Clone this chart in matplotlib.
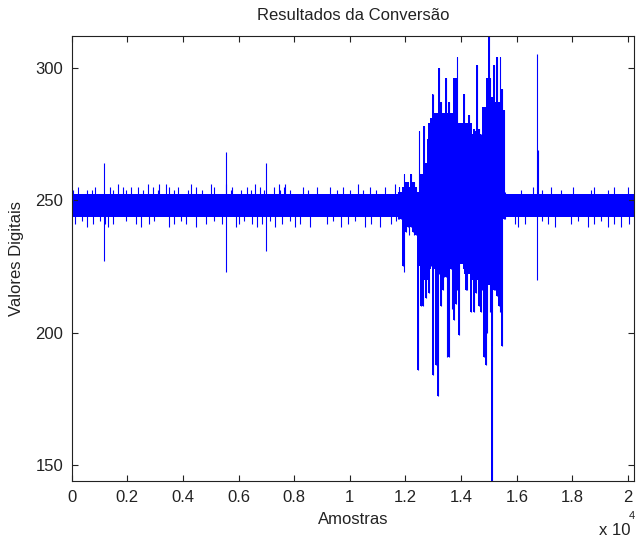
import numpy as np
import matplotlib
matplotlib.use('Agg')
import matplotlib.pyplot as plt

plt.rcParams['font.family'] = ['Liberation Sans', 'DejaVu Sans']

# -------------------------------------------------------------
# dados (amostras x valor digital)
# -------------------------------------------------------------

# faixa de ruido de fundo (sinal em repouso)
band_x = [1, 20215]
band_lo = [243.5, 243.5]
band_hi = [252.5, 252.5]

# picos pequenos para cima na parte calma
up_x = [57, 236, 536, 714, 832, 1153, 1368, 1487, 1666, 1845, 1964, 2142, 2380,
        2559, 2738, 2916, 3095, 3155, 3392, 3511, 3690, 3809, 4166, 4285, 4464,
        4702, 5000, 5119, 5535, 5557, 5714, 5773, 6071, 6309, 6428, 6607, 6785,
        6903, 7000, 7260, 7439, 7499, 7617, 7678, 7856, 8331, 8510, 8806, 9285,
        9520, 9760, 9999, 10295, 10474, 10713, 10949, 11249, 11606,
        16152, 16591, 16734, 16760, 16891, 17248, 17605, 18020, 18676, 18794,
        19270, 19509, 19984]
up_y = [254, 255, 254, 254, 255, 264, 255, 254, 256, 255, 254, 255, 255,
        254, 256, 255, 254, 256, 256, 255, 254, 255, 254, 256, 255,
        254, 256, 255, 256, 268, 254, 255, 254, 255, 254, 256, 255,
        254, 264, 255, 256, 254, 255, 256, 254, 255, 254, 255, 255,
        254, 255, 254, 256, 254, 255, 254, 255, 256,
        254, 255, 305, 269, 254, 255, 254, 255, 254, 255,
        254, 255, 255]

# picos pequenos para baixo na parte calma
down_x = [118, 357, 536, 771, 1011, 1153, 1189, 1307, 1486, 1964, 2321, 2500,
          2796, 2975, 3510, 3689, 3928, 4107, 4464, 4821, 5117, 5414, 5557,
          5892, 6010, 6189, 6485, 6664, 6843, 7000, 7142, 7321, 7556, 7856,
          8035, 8213, 8570, 9163, 9403, 9699, 9938, 10177, 10534, 10770, 11070,
          11484, 11663,
          15938, 16055, 16295, 16734, 16891, 17127, 17367, 17962, 18198, 18555,
          18794, 19034, 19270, 19509, 19748, 20045]
down_y = [241, 242, 240, 241, 242, 227, 241, 240, 241, 242, 241, 240,
          241, 242, 240, 241, 242, 241, 240, 241, 242, 241, 223,
          240, 241, 242, 241, 240, 241, 231, 242, 240, 241, 242,
          240, 241, 240, 241, 242, 240, 241, 242, 240, 241, 240,
          241, 242,
          241, 240, 241, 220, 242, 241, 240, 241, 242, 240,
          241, 242, 240, 241, 240, 241]

# regiao da perturbacao: envoltoria por coluna
burst_x = [11724, 11784, 11843, 11903, 11962, 12022, 12081, 12141, 12200, 12260,
           12319, 12379, 12438, 12498, 12557, 12617, 12676, 12736, 12795, 12855,
           12914, 12974, 13033, 13093, 13152, 13212, 13271, 13331, 13390, 13450,
           13509, 13569, 13628, 13688, 13747, 13807, 13866, 13926, 13985, 14045,
           14104, 14164, 14223, 14283, 14342, 14402, 14461, 14521, 14580, 14640,
           14699, 14759, 14818, 14878, 14937, 14997, 15056, 15116, 15175, 15235,
           15294, 15354, 15413, 15473, 15532, 15592]
burst_hi = [253, 255, 253, 255, 260, 257, 257, 255, 260, 257,
            257, 255, 253, 276, 260, 257, 278, 264, 273, 276,
            281, 290, 281, 281, 281, 300, 287, 278, 280, 296,
            281, 287, 275, 275, 296, 296, 304, 279, 279, 279,
            290, 273, 275, 282, 273, 275, 277, 276, 301, 277,
            275, 273, 273, 285, 296, 312, 296, 289, 301, 287,
            304, 287, 304, 292, 284, 253]
burst_lo = [243, 243, 243, 225, 223, 238, 240, 237, 240, 238,
            237, 237, 186, 227, 210, 210, 227, 213, 222, 215,
            225, 184, 232, 188, 176, 222, 210, 216, 221, 221,
            191, 191, 224, 209, 205, 211, 216, 199, 232, 232,
            224, 216, 216, 224, 208, 224, 208, 215, 221, 210,
            208, 216, 191, 188, 200, 224, 208, 144, 216, 216,
            214, 210, 208, 195, 243, 243]

# nucleo solido da perturbacao (degraus)
core_x = [12438, 12557, 12795, 12914, 13033, 13331, 13807, 14105, 14402, 14759, 15473]
core_hi = [252, 260, 279, 280, 283, 283, 276, 279, 274, 285, 252.5]
core_lo = [225, 220, 224, 226, 224, 224, 226, 222, 220, 218, 243.5]

x_ticks = [0, 2000, 4000, 6000, 8000, 10000, 12000, 14000, 16000, 18000, 20000]
x_tick_labels = ['0', '0.2', '0.4', '0.6', '0.8', '1', '1.2', '1.4', '1.6', '1.8', '2']
y_ticks = [150, 200, 250, 300]

blue = '#0000FF'
ink = '#222222'

fig = plt.figure(figsize=(6.37, 5.37), dpi=100)
fig.patch.set_facecolor('white')
ax = fig.add_axes([71.7 / 637, 1 - 481.3 / 537, (634 - 71.7) / 637, (481.3 - 35.7) / 537])

ax.fill_between(band_x, band_lo, band_hi, color=blue, linewidth=0)
ax.fill_between(core_x, core_lo, core_hi, step='post', color=blue, linewidth=0)
# cada coluna da perturbacao como um degrau cheio
ax.fill_between(burst_x, burst_lo, burst_hi, step='mid', color=blue, linewidth=0)
base = (band_lo[0] + band_hi[0]) / 2
ax.vlines(up_x, base, up_y, color=blue, linewidth=0.8)
ax.vlines(down_x, down_y, base, color=blue, linewidth=0.8)
ax.vlines(burst_x, burst_lo, burst_hi, color=blue, linewidth=0.8)

ax.set_xlim(band_x[0], band_x[-1])
ax.set_ylim(min(burst_lo), max(burst_hi))
ax.set_xticks(x_ticks)
ax.set_xticklabels(x_tick_labels)
ax.set_yticks(y_ticks)
ax.tick_params(direction='in', length=4, width=0.8, top=True, right=True,
               labelsize=12, pad=6, colors=ink)
for spine in ax.spines.values():
    spine.set_color(ink)
    spine.set_linewidth(0.8)

ax.set_title('Resultados da Conversão', fontsize=12, pad=11, color=ink)
ax.set_xlabel('Amostras', fontsize=12, labelpad=5, color=ink)
ax.set_ylabel('Valores Digitais', fontsize=12, labelpad=8, color=ink)

# multiplicador do eixo x, como no MATLAB
fig.text(599 / 637, 1 - 535 / 537, 'x 10', fontsize=12, color=ink,
         ha='left', va='baseline')
fig.text(628.5 / 637, 1 - 519 / 537, '4', fontsize=8, color=ink,
         ha='left', va='baseline')

plt.savefig('out.png', dpi=100, facecolor='white')
